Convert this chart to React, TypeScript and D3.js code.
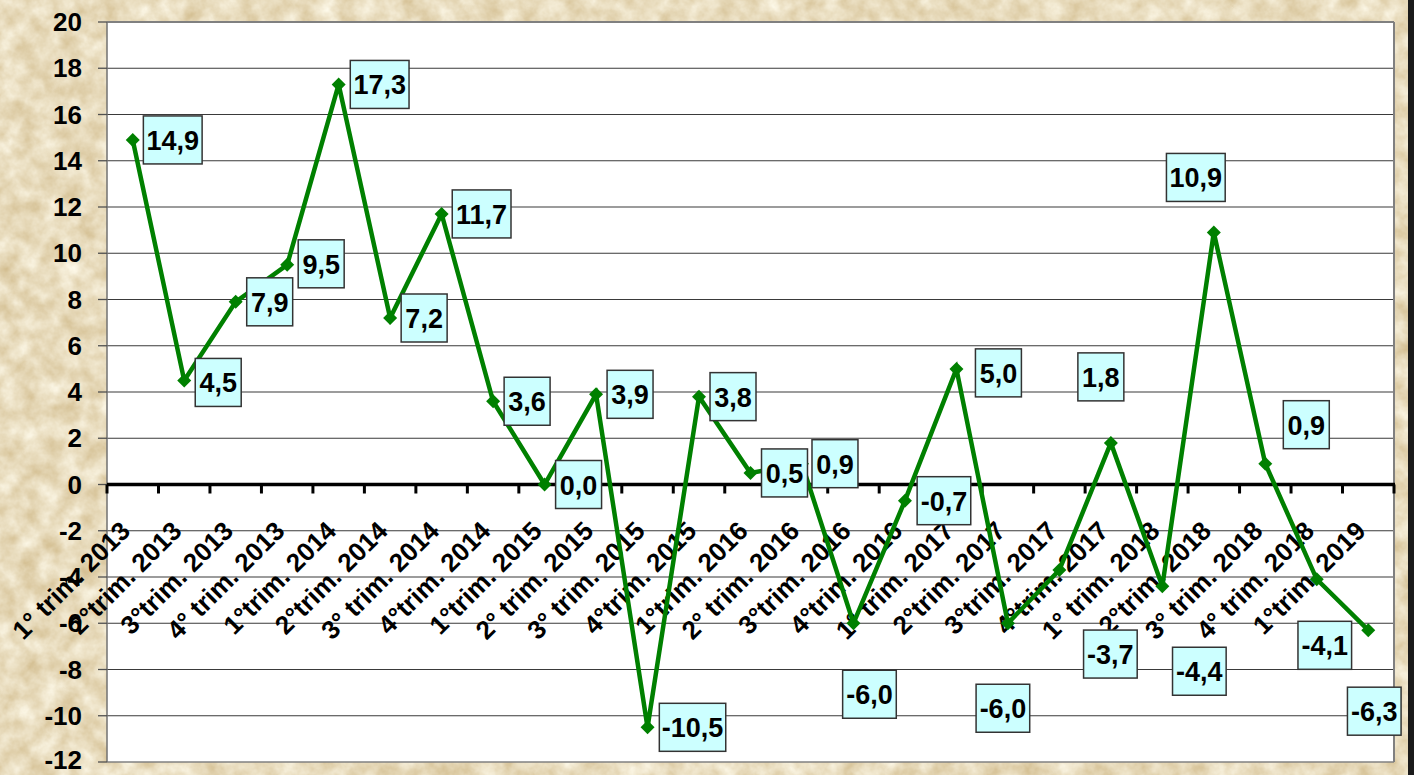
import React from "react";
import * as d3 from "d3";

const categories = [
  "1° trim. 2013", "2°trim. 2013", "3°trim. 2013", "4° trim. 2013",
  "1°trim. 2014", "2°trim. 2014", "3° trim. 2014", "4°trim. 2014",
  "1°trim. 2015", "2° trim. 2015", "3° trim. 2015", "4°trim. 2015",
  "1°trim. 2016", "2° trim. 2016", "3°trim. 2016", "4°trim. 2016",
  "1° trim. 2017", "2°trim. 2017", "3°trim. 2017", "4°trim. 2017",
  "1° trim. 2018", "2°trim. 2018", "3° trim. 2018", "4° trim. 2018",
  "1°trim. 2019",
];

const values = [
  14.9, 4.5, 7.9, 9.5, 17.3, 7.2, 11.7, 3.6, 0.0, 3.9, -10.5, 3.8, 0.5,
  0.9, -6.0, -0.7, 5.0, -6.0, -3.7, 1.8, -4.4, 10.9, 0.9, -4.1, -6.3,
];

const yTicks = [-12, -10, -8, -6, -4, -2, 0, 2, 4, 6, 8, 10, 12, 14, 16, 18, 20];

// layout: data-label box centre offsets relative to each point (px)
const labelOffsets: [number, number][] = [
  [40, 0], [34, 2], [34, 0], [34, -1], [41, 0], [34, 0], [40, 0], [34, 0],
  [34, 0], [34, 0], [45, 0], [34, 0], [34, 0], [33, 0], [16, 71], [39, 0],
  [42, 4], [-5, 85], [51, 84], [-10, -66], [37, 85], [-18, -55], [41, -39],
  [8, 66], [6, 81],
];

const W = 1414;
const H = 775;
const PL = 107, PR = 1394, PT = 22, PB = 762;
const FONT = "'Liberation Sans', Arial, sans-serif";

const fmt = (v: number) => v.toFixed(1).replace(".", ",");

function boxWidth(s: string) {
  const w: Record<string, number> = { "-": 0.333, ",": 0.278, ".": 0.278 };
  let t = 0;
  for (const ch of s) t += w[ch] ?? 0.556;
  return t * 23 + 14;
}

export default function App() {
  const x = d3.scaleBand<string>().domain(categories).range([PL, PR]).padding(0);
  const y = d3.scaleLinear().domain([-12, 20]).range([PB, PT]);
  const cx = (i: number) => (x(categories[i]) as number) + x.bandwidth() / 2;
  const y0 = y(0);

  const line = d3
    .line<number>()
    .x((_, i) => cx(i))
    .y((d) => y(d));

  const boundaries = categories.map((c) => x(c) as number).concat([PR]);

  return (
    <svg
      width={W}
      height={H}
      style={{ position: "absolute", left: 0, top: 0, display: "block" }}
      fontFamily={FONT}
    >
      <defs>
        <filter id="paper" x="0" y="0" width="100%" height="100%" colorInterpolationFilters="sRGB">
          <feTurbulence type="fractalNoise" baseFrequency="0.05" numOctaves={4} seed={7} />
          <feColorMatrix
            type="matrix"
            values="0.20 0 0 0 0.81  0.28 0 0 0 0.72  0.42 0 0 0 0.53  0 0 0 0 1"
          />
        </filter>
      </defs>
      <rect x={0} y={0} width={W} height={H} fill="#E8D8AE" />
      <rect x={0} y={0} width={W} height={H} filter="url(#paper)" />
      <rect x={1408} y={0} width={6} height={H} fill="#1a1a1a" />

      {/* plot area */}
      <rect x={PL} y={PT} width={PR - PL} height={PB - PT} fill="#FFFFFF" />

      {/* gridlines */}
      {yTicks.filter((t) => t !== 0 && t !== -12 && t !== 20).map((t) => (
        <line key={t} x1={PL} x2={PR} y1={y(t)} y2={y(t)} stroke="#3a3a3a" strokeWidth={1.2} />
      ))}
      {/* plot border */}
      <line x1={PL} x2={PR} y1={PT} y2={PT} stroke="#808080" strokeWidth={2} />
      <line x1={PR} x2={PR} y1={PT} y2={PB} stroke="#808080" strokeWidth={2} />
      <line x1={PL} x2={PR} y1={PB} y2={PB} stroke="#808080" strokeWidth={1.5} />
      <line x1={PL} x2={PL} y1={PT} y2={PB} stroke="#707070" strokeWidth={1.5} />

      {/* y axis ticks and labels */}
      {yTicks.map((t) => (
        <g key={t}>
          <line x1={98} x2={PL} y1={y(t)} y2={y(t)} stroke="#505050" strokeWidth={1.3} />
          <text
            x={82}
            y={t === -12 ? y(t) + 7 : y(t) + 9}
            textAnchor="end"
            fontSize={26}
            fontWeight="bold"
            fill="#000"
          >
            {t}
          </text>
        </g>
      ))}

      {/* zero axis */}
      <line x1={PL} x2={PR + 1} y1={y0} y2={y0} stroke="#000" strokeWidth={3.5} />
      {boundaries.map((b, i) => (
        <line key={i} x1={b} x2={b} y1={y0} y2={y0 + 9} stroke="#000" strokeWidth={3} />
      ))}

      {/* category labels */}
      {categories.map((c, i) => {
        const ax = cx(i) - 1;
        const ay = y0 + 48;
        return (
          <text
            key={c}
            x={ax}
            y={ay}
            textAnchor="end"
            fontSize={26}
            fontWeight="bold"
            fill="#000"
            transform={`rotate(-45 ${ax} ${ay})`}
          >
            {c}
          </text>
        );
      })}

      {/* series line */}
      <path d={line(values) ?? ""} fill="none" stroke="#008000" strokeWidth={4.5} strokeLinejoin="miter" />
      {values.map((v, i) => {
        const px = cx(i), py = y(v), r = 7;
        return (
          <path
            key={i}
            d={`M${px},${py - r}L${px + r},${py}L${px},${py + r}L${px - r},${py}Z`}
            fill="#008000"
          />
        );
      })}

      {/* data labels */}
      {values.map((v, i) => {
        const s = fmt(v);
        const bw = boxWidth(s);
        const bh = 48;
        const [dx, dy] = labelOffsets[i];
        const bx = cx(i) + dx;
        const by = y(v) + dy;
        return (
          <g key={i}>
            <rect
              x={bx - bw / 2}
              y={by - bh / 2}
              width={bw}
              height={bh}
              fill="#CCFFFF"
              stroke="#333"
              strokeWidth={1.5}
            />
            <text x={bx} y={by + 10} textAnchor="middle" fontSize={27} fontWeight="bold" fill="#000">
              {s}
            </text>
          </g>
        );
      })}
    </svg>
  );
}
